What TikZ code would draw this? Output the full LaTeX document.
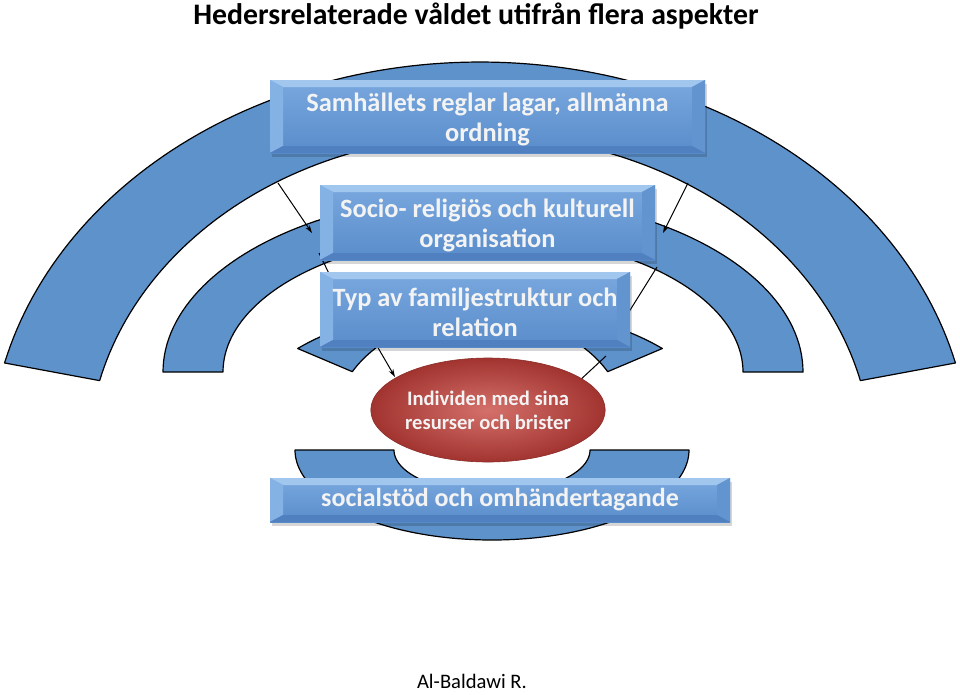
\documentclass[tikz,border=0pt]{standalone}
\usepackage{fontspec}
\setmainfont{Carlito}
\usetikzlibrary{shapes.geometric,arrows.meta,calc}
\pgfdeclarelayer{bands}
\pgfdeclarelayer{shadowlayer}
\pgfsetlayers{bands,shadowlayer,main}
\definecolor{bandblue}{RGB}{94,146,203}
\definecolor{faceTop}{RGB}{122,168,223}
\definecolor{faceBot}{RGB}{88,140,202}
\definecolor{bevTop}{RGB}{162,199,239}
\definecolor{bevLeft}{RGB}{132,178,229}
\definecolor{bevRight}{RGB}{98,148,207}
\definecolor{bevBot}{RGB}{80,128,191}
\definecolor{boxtext}{RGB}{243,243,243}
\definecolor{redIn}{RGB}{212,112,106}
\definecolor{redOut}{RGB}{162,52,48}
\tikzset{
  band/.style={fill=bandblue, draw=black, line width=1.2pt, line join=round},
  conn/.style={draw=black, line width=1pt},
  arr/.style={conn, -{Stealth[length=8pt,width=5pt]}},
  bevelbox/.style={rectangle, inner sep=0pt, top color=faceTop, bottom color=faceBot,
    text=boxtext, align=center, font=\bfseries\fontsize{26.4}{30}\selectfont,
    path picture={
      \coordinate (pNW) at (path picture bounding box.north west);
      \coordinate (pNE) at (path picture bounding box.north east);
      \coordinate (pSW) at (path picture bounding box.south west);
      \coordinate (pSE) at (path picture bounding box.south east);
      \coordinate (iNW) at ($(pNW)+(13,7)$);
      \coordinate (iNE) at ($(pNE)+(-13,7)$);
      \coordinate (iSW) at ($(pSW)+(13,-7)$);
      \coordinate (iSE) at ($(pSE)+(-13,-7)$);
      \fill[bevTop] (pNW) -- (pNE) -- (iNE) -- (iNW) -- cycle;
      \fill[bevLeft] (pNW) -- (iNW) -- (iSW) -- (pSW) -- cycle;
      \fill[bevRight] (pNE) -- (pSE) -- (iSE) -- (iNE) -- cycle;
      \fill[bevBot] (pSW) -- (iSW) -- (iSE) -- (pSE) -- cycle;
    }},
  shadowbox/.style={fill=black, opacity=0.16},
  person/.style={ellipse, inner sep=0pt, minimum width=234pt, minimum height=104pt,
    inner color=redIn, outer color=redOut, draw=redOut!85!black, line width=0.6pt,
    text=boxtext, align=center, font=\bfseries\fontsize{20.6}{24}\selectfont}
}
\begin{document}
\begin{tikzpicture}[x=1pt,y=-1pt]
\useasboundingbox (0,0) rectangle (960,694);

% title and author
\node[anchor=base, font=\bfseries\fontsize{29.8}{34}\selectfont] (title) at (476,24) {Hedersrelaterade våldet utifrån flera aspekter};
\node[anchor=base, font=\fontsize{20.6}{24}\selectfont] (author) at (472,688) {Al-Baldawi R.};

% boxes
\node[bevelbox, minimum width=435pt, minimum height=73pt] (b1) at (487.5,116.5) {\rule{0pt}{24pt}Samhällets reglar lagar, allmänna\\ordning};
\node[bevelbox, minimum width=335pt, minimum height=75pt] (b2) at (487.5,222.5) {\rule{0pt}{24pt}Socio- religiös och kulturell\\organisation};
\node[bevelbox, minimum width=310pt, minimum height=75pt] (b3) at (475,309.5) {\rule{0pt}{24pt}Typ av familjestruktur och\\relation};
\node[bevelbox, minimum width=460pt, minimum height=44pt, font=\bfseries\fontsize{26}{30}\selectfont] (b4) at (500,500) {socialstöd och omhändertagande};
\node[person] (ind) at (488,410) {Individen med sina\\resurser och brister};

% connector end points
\coordinate (a1s) at (278,183);
\coordinate (a1e) at (312,233);
\coordinate (a2s) at (688,183);
\coordinate (a2e) at (663,233);
\coordinate (a3s) at (319,253);
\coordinate (a3e) at (337,290);
\coordinate (a4s) at (657,267);
\coordinate (a4e) at (627,315);
\coordinate (a5s) at (377,346);
\coordinate (a5e) at (395,377);
\coordinate (a6s) at (606,356);
\coordinate (a6e) at (578,382);

\begin{pgfonlayer}{bands}
  % outer band
  \path[band] plot[domain=-166:-14, samples=120] ({480+490*cos(\x)},{459+397*sin(\x)})
     -- plot[domain=14:166, samples=120] ({480+392*cos(\x)},{459-324*sin(\x)}) -- cycle;
  % middle band
  \path[band] plot[domain=-180:0, samples=100] ({483+320*cos(\x)},{372+177*sin(\x)})
     -- plot[domain=0:180, samples=100] ({483+260*cos(\x)},{372-137*sin(\x)}) -- cycle;
  % inner band
  \path[band] plot[domain=-140:-40, samples=80] ({480+238*cos(\x)},{425+119*sin(\x)})
     -- plot[domain=29:151, samples=80] ({480+146*cos(\x)},{425-110*sin(\x)}) -- cycle;
  % bottom band
  \path[band] plot[domain=0:180, samples=100] ({492+197*cos(\x)},{450+90*sin(\x)})
     -- plot[domain=0:180, samples=100] ({492-98*cos(\x)},{450+43*sin(\x)}) -- cycle;
  % connectors
  \draw[arr] (a1s) -- (a1e);
  \draw[arr] (a2s) -- (a2e);
  \draw[conn] (a3s) -- (a3e);
  \draw[conn] (a4s) -- (a4e);
  \draw[arr] (a5s) -- (a5e);
  \draw[conn] (a6s) -- (a6e);
\end{pgfonlayer}

\begin{pgfonlayer}{shadowlayer}
  \foreach \b in {b1,b2,b3,b4}
    \fill[shadowbox] ($(\b.north west)+(2,4)$) rectangle ($(\b.south east)+(2,4)$);
\end{pgfonlayer}
\end{tikzpicture}
\end{document}
